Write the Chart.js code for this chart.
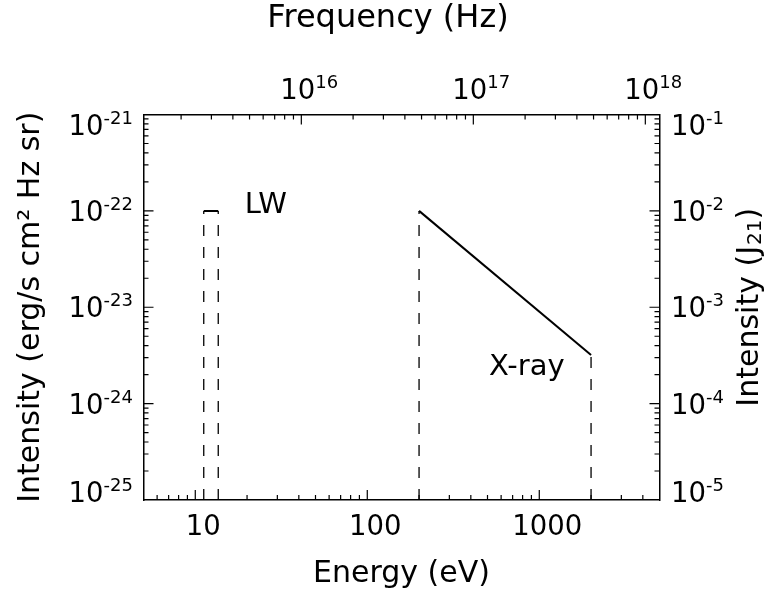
<!DOCTYPE html>
<html>
<head>
<meta charset="utf-8">
<script src="https://cdn.jsdelivr.net/npm/chart.js@4.4.0/dist/chart.umd.min.js"></script>
<style>
  body { margin: 0; background: #fff; }
  canvas { display: block; }
</style>
</head>
<body>
<canvas id="spectrum" width="767" height="596"></canvas>
<script>
// Lyman-Werner band: edges in eV, flat intensity in erg/s/cm^2/Hz/sr
const lwEnergy = [11.2, 13.6];
const lwIntensity = [1e-22, 1e-22];

// X-ray power law, end points
const xrayEnergy = [200, 2000];
const xrayIntensity = [1e-22, 3.2e-24];

// the band edges drop down to the bottom of the plot
const floorIntensity = 1e-25;

// in-plot labels
const noteText = ["LW", "X-ray"];
const noteEnergy = [25.7, 846];
const noteIntensity = [1.15e-22, 2.4e-24];

// axis ranges and decade labels
const energyRange = [5, 5000];
const energyLabels = [10, 100, 1000];
const intensityRange = [1e-25, 1e-21];
const intensityExp = [-21, -22, -23, -24, -25];
const j21Range = [1e-5, 1e-1];
const j21Exp = [-1, -2, -3, -4, -5];
const freqExp = [16, 17, 18];
const hzPerEv = 2.418e14;

const FONT = "'DejaVu Sans', sans-serif";
const INK = "#000";
const BIG = "27.5px " + FONT;
const SMALL = "18px " + FONT;

const dashed = { borderColor: INK, borderWidth: 1.3, borderDash: [11, 11], pointRadius: 0, fill: false };
const solid = { borderColor: INK, borderWidth: 2, pointRadius: 0, fill: false };

function seg(x0, y0, x1, y1) {
  return [{ x: x0, y: y0 }, { x: x1, y: y1 }];
}

// "10" with a raised exponent, y is the middle of the big digits
function drawPower(ctx, exp, x, y, align) {
  const e = String(exp);
  ctx.font = BIG;
  const wb = ctx.measureText("10").width;
  ctx.font = SMALL;
  const we = ctx.measureText(e).width;
  const w = wb + we;
  const x0 = align === "right" ? x - w : align === "left" ? x : x - w / 2;
  ctx.textAlign = "left";
  ctx.textBaseline = "alphabetic";
  ctx.font = BIG;
  ctx.fillText("10", x0, y + 10);
  ctx.font = SMALL;
  ctx.fillText(e, x0 + wb, y - 1);
}

const axisDecor = {
  id: "axisDecor",
  afterDraw(chart) {
    const { ctx, chartArea: a, scales } = chart;

    // inward tick marks on all four sides
    const marks = (s) => {
      const out = [];
      const lo = Math.floor(Math.log10(s.min)), hi = Math.ceil(Math.log10(s.max));
      for (let e = lo; e <= hi; e++) {
        for (let m = 1; m < 10; m++) {
          const v = m * Math.pow(10, e);
          if (v > s.min * 1.0001 && v < s.max * 0.9999) out.push({ p: s.getPixelForValue(v), len: m === 1 ? 10 : 5 });
        }
      }
      return out;
    };
    ctx.save();
    ctx.strokeStyle = INK;
    ctx.lineWidth = 1.2;
    ctx.beginPath();
    marks(scales.x).forEach(t => { ctx.moveTo(t.p, a.bottom); ctx.lineTo(t.p, a.bottom - t.len); });
    marks(scales.x2).forEach(t => { ctx.moveTo(t.p, a.top); ctx.lineTo(t.p, a.top + t.len); });
    marks(scales.y).forEach(t => { ctx.moveTo(a.left, t.p); ctx.lineTo(a.left + t.len, t.p); });
    marks(scales.y2).forEach(t => { ctx.moveTo(a.right, t.p); ctx.lineTo(a.right - t.len, t.p); });
    ctx.stroke();

    ctx.fillStyle = INK;
    // end labels are kept inside the axis span
    const yPos = p => Math.min(Math.max(p, a.top + 10), a.bottom - 8);

    intensityExp.forEach(e => drawPower(ctx, e, a.left - 10.5, yPos(scales.y.getPixelForValue(Math.pow(10, e))), "right"));
    j21Exp.forEach(e => drawPower(ctx, e, a.right + 11.5, yPos(scales.y2.getPixelForValue(Math.pow(10, e))), "left"));
    freqExp.forEach(e => drawPower(ctx, e, scales.x2.getPixelForValue(Math.pow(10, e)) + 8, a.top - 25.5, "center"));

    ctx.font = BIG;
    ctx.textAlign = "center";
    ctx.textBaseline = "alphabetic";
    energyLabels.forEach(v => ctx.fillText(String(v), scales.x.getPixelForValue(v) + 8, a.bottom + 35));

    // top axis title
    ctx.font = "32px " + FONT;
    ctx.textBaseline = "middle";
    ctx.fillText("Frequency (Hz)", 388, 19);

    // band labels
    ctx.font = "29px " + FONT;
    noteText.forEach((t, i) => {
      ctx.fillText(t, scales.x.getPixelForValue(noteEnergy[i]), scales.y.getPixelForValue(noteIntensity[i]));
    });

    // right axis title, reading upwards, with a subscript
    ctx.translate(750, (a.top + a.bottom) / 2);
    ctx.rotate(-Math.PI / 2);
    ctx.textAlign = "left";
    const head = "Intensity (J", sub = "21", tail = ")";
    const TF = "30px " + FONT, SF = "20px " + FONT;
    ctx.font = TF;
    const wh = ctx.measureText(head).width, wt = ctx.measureText(tail).width;
    ctx.font = SF;
    const ws = ctx.measureText(sub).width + 1;
    let x = -(wh + ws + wt) / 2;
    ctx.font = TF;
    ctx.fillText(head, x, 0);
    x += wh;
    ctx.font = SF;
    ctx.fillText(sub, x + 1, 6);
    x += ws;
    ctx.font = TF;
    ctx.fillText(tail, x, 0);
    ctx.restore();
  }
};

const titleFont = { family: FONT, size: 30 };
const border = { display: true, color: INK, width: 1.5 };
const noGrid = { display: false, drawTicks: false };
const noTicks = { display: false };

new Chart(document.getElementById("spectrum"), {
  type: "line",
  data: {
    datasets: [
      { ...dashed, data: seg(lwEnergy[0], floorIntensity, lwEnergy[0], lwIntensity[0]) },
      { ...solid, data: seg(lwEnergy[0], lwIntensity[0], lwEnergy[1], lwIntensity[1]) },
      { ...dashed, data: seg(lwEnergy[1], floorIntensity, lwEnergy[1], lwIntensity[1]) },
      { ...dashed, data: seg(xrayEnergy[0], floorIntensity, xrayEnergy[0], xrayIntensity[0]) },
      { ...solid, data: seg(xrayEnergy[0], xrayIntensity[0], xrayEnergy[1], xrayIntensity[1]) },
      { ...dashed, data: seg(xrayEnergy[1], floorIntensity, xrayEnergy[1], xrayIntensity[1]) },
    ],
  },
  options: {
    responsive: false,
    animation: false,
    devicePixelRatio: 1,
    layout: { padding: 0 },
    plugins: { legend: { display: false }, tooltip: { enabled: false } },
    scales: {
      x: {
        type: "logarithmic", position: "bottom",
        min: energyRange[0], max: energyRange[1],
        afterFit: s => { s.height = 96; },
        border, grid: noGrid, ticks: noTicks,
        title: { display: true, text: "Energy (eV)", color: INK, font: titleFont, padding: { top: 0, bottom: 4 } },
      },
      x2: {
        type: "logarithmic", position: "top",
        min: energyRange[0] * hzPerEv, max: energyRange[1] * hzPerEv,
        afterFit: s => { s.height = 114.5; },
        border, grid: noGrid, ticks: noTicks,
        title: { display: false },
      },
      y: {
        type: "logarithmic", position: "left",
        min: intensityRange[0], max: intensityRange[1],
        afterFit: s => { s.width = 143.5; },
        border, grid: noGrid, ticks: noTicks,
        title: { display: true, text: "Intensity (erg/s cm\u00B2 Hz sr)", color: INK, font: titleFont, padding: { top: 13, bottom: 0 } },
      },
      y2: {
        type: "logarithmic", position: "right",
        min: j21Range[0], max: j21Range[1],
        afterFit: s => { s.width = 107.5; },
        border, grid: noGrid, ticks: noTicks,
        title: { display: false },
      },
    },
  },
  plugins: [axisDecor],
});
</script>
</body>
</html>
